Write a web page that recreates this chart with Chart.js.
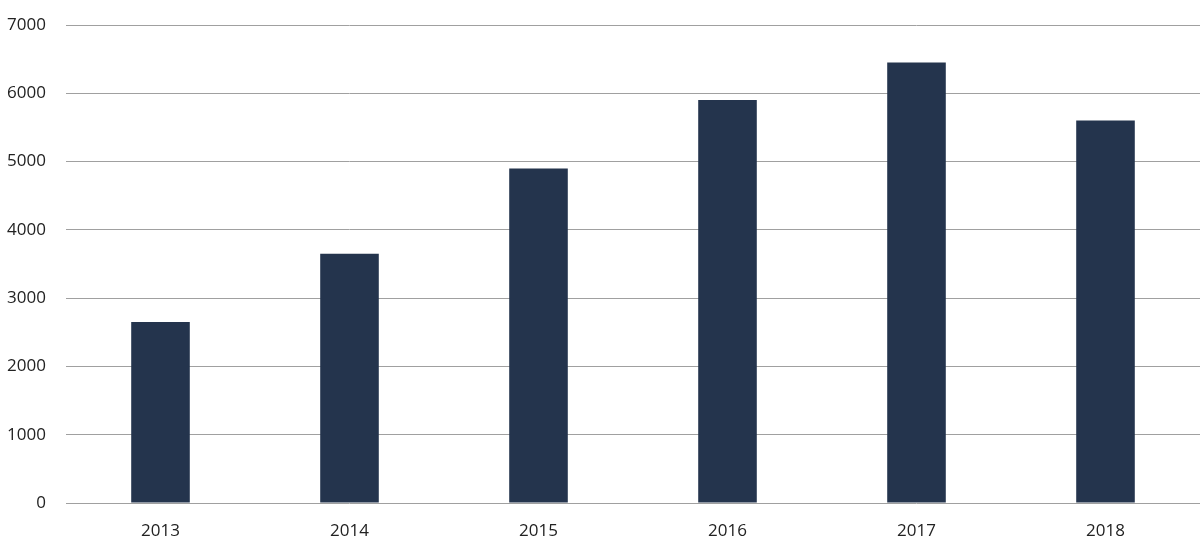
<!DOCTYPE html>
<html>
<head>
<meta charset="utf-8">
<script src="https://cdn.jsdelivr.net/npm/chart.js@4/dist/chart.umd.min.js"></script>
<style>
  html, body { margin: 0; padding: 0; background: #fff; }
  #wrap { width: 1200px; height: 558px; }
</style>
</head>
<body>
<div id="wrap"><canvas id="myChart"></canvas></div>
<script>
// data
var years = ["2013", "2014", "2015", "2016", "2017", "2018"];
var values = [2650, 3650, 4900, 5900, 6450, 5600];
var yMax = 7000;
var yStep = 1000;

new Chart("myChart", {
  type: "bar",
  data: {
    labels: years,
    datasets: [{
      data: values,
      backgroundColor: "#24344d",
      categoryPercentage: 1,
      barPercentage: 0.31
    }]
  },
  options: {
    responsive: true,
    maintainAspectRatio: false,
    animation: false,
    layout: { padding: { top: 25, right: 0, left: 0, bottom: 0 } },
    plugins: {
      legend: { display: false },
      tooltip: { enabled: false }
    },
    scales: {
      x: {
        grid: { display: false, drawTicks: false },
        border: { display: false },
        ticks: { color: "#222", font: { family: "Open Sans", size: 17 }, padding: 18 },
        afterFit: function (s) { s.height = 55; }
      },
      y: {
        min: 0,
        max: yMax,
        grid: { color: "#a0a0a0", lineWidth: 1, drawTicks: false },
        border: { display: false },
        ticks: {
          stepSize: yStep,
          color: "#222",
          font: { family: "Open Sans", size: 17 },
          padding: 20,
          callback: function (v) { return String(v); }
        },
        afterFit: function (s) {
          s.width = 66;
          // keep label padding from pushing the plot down
          s.paddingTop = 0;
          s.paddingBottom = 0;
        }
      }
    }
  }
});
</script>
</body>
</html>
